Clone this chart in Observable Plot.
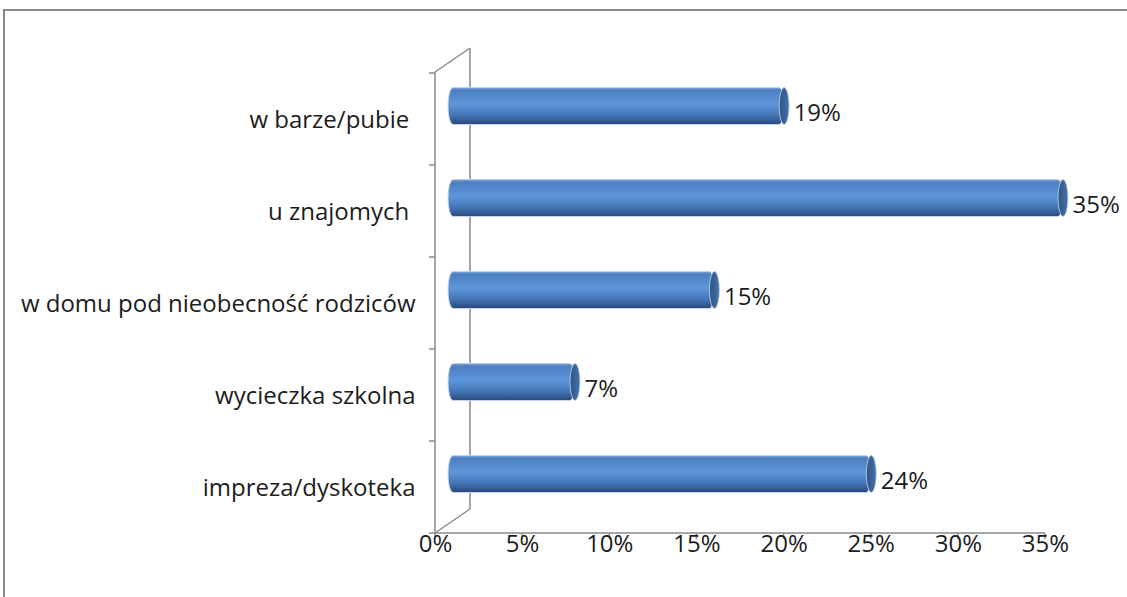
<!DOCTYPE html>
<html><head><meta charset="utf-8">
<script src="https://cdn.jsdelivr.net/npm/d3@7"></script>
<script src="https://cdn.jsdelivr.net/npm/@observablehq/plot@0.6"></script>
<style>
html,body{margin:0;padding:0;background:#fff;overflow:hidden;width:1127px;height:597px}
#frame{position:absolute;left:3px;top:9px;width:1200px;height:700px;border:2px solid #8a8a8a;box-sizing:border-box}
#chart{position:absolute;left:0;top:0}
#chart svg text{white-space:pre}
</style></head><body>
<div id="frame"></div><div id="chart"></div>
<script>
const categories = ["w barze/pubie ", "u znajomych ", "w domu pod nieobecność rodziców", "wycieczka szkolna", "impreza/dyskoteka"];
const values = [0.19, 0.35, 0.15, 0.07, 0.24];
const valueLabels = ["19%", "35%", "15%", "7%", "24%"];
const xTicks = [0, 0.05, 0.10, 0.15, 0.20, 0.25, 0.30, 0.35];
const xTickLabels = ["0%", "5%", "10%", "15%", "20%", "25%", "30%", "35%"];

const data = categories.map((c, i) => ({c, v: values[i], l: valueLabels[i]}));
const ticks = xTicks.map((t, i) => ({t, l: xTickLabels[i]}));

const FONT = "'Open Sans', Lato, sans-serif";
const FS = 24;
const textColor = "#1c1c1c";
const axisColor = "#8a8a8a";
const depth = [35, -24];

function axes(index, scales, values, dims) {
  const g = d3.create("svg:g").attr("stroke", axisColor).attr("stroke-width", 1.5).attr("fill", "none");
  const x0 = scales.x(0), x1 = scales.x(0.35);
  const top = dims.marginTop, bottom = dims.height - dims.marginBottom;
  // back wall
  g.append("line").attr("x1", x0 + depth[0]).attr("x2", x0 + depth[0]).attr("y1", top + depth[1]).attr("y2", bottom + depth[1]);
  g.append("line").attr("x1", x0).attr("x2", x0 + depth[0]).attr("y1", top).attr("y2", top + depth[1]);
  g.append("line").attr("x1", x0).attr("x2", x0 + depth[0]).attr("y1", bottom).attr("y2", bottom + depth[1]);
  // left axis
  g.append("line").attr("x1", x0).attr("x2", x0).attr("y1", top).attr("y2", bottom);
  const bounds = categories.map(c => scales.y(c)).concat([bottom]);
  for (const b of bounds) g.append("line").attr("x1", x0 - 6).attr("x2", x0).attr("y1", b).attr("y2", b);
  // bottom axis
  g.append("line").attr("x1", x0).attr("x2", x1).attr("y1", bottom).attr("y2", bottom);
  for (const t of xTicks) g.append("line").attr("x1", scales.x(t)).attr("x2", scales.x(t)).attr("y1", bottom).attr("y2", bottom + 6);
  return g.node();
}

const barOpts = {y: "c", dx: 18, dy: -13, insetTop: 27.5, insetBottom: 27.5};

const plot = Plot.plot({
  width: 1127, height: 597,
  marginLeft: 435, marginRight: 82, marginTop: 72, marginBottom: 64,
  style: {fontFamily: FONT, background: "transparent", overflow: "visible"},
  x: {domain: [0, 0.35], axis: null},
  y: {type: "band", domain: categories, padding: 0, axis: null},
  marks: [
    axes,
    Plot.barX(data, {...barOpts, x1: 0, x2: "v", insetLeft: -5, rx: 5, ry: 18.5, fill: "url(#cylGrad)", stroke: "#c3d2e6", strokeWidth: 1}),
    Plot.barX(data, {...barOpts, x1: "v", x2: "v", insetLeft: -5, insetRight: -5, rx: 5, ry: 18.5, fill: "url(#capGrad)", stroke: "#c3d2e6", strokeWidth: 0.8}),
    Plot.text(data, {x: "v", y: "c", text: "l", textAnchor: "start", dx: 27, dy: -6, fontSize: FS, fill: textColor}),
    Plot.text(categories, {y: d => d, text: d => d, frameAnchor: "left", textAnchor: "end", dx: -20, dy: 1, fontSize: FS, fill: textColor}),
    Plot.text(ticks, {x: "t", text: "l", frameAnchor: "bottom", dy: 18, fontSize: FS, fill: textColor})
  ]
});

const defs = d3.create("svg:defs");
const g1 = defs.append("linearGradient").attr("id", "cylGrad").attr("x1", 0).attr("x2", 0).attr("y1", 0).attr("y2", 1);
[[0, "#7aa3d8"], [0.08, "#4d7fc0"], [0.45, "#5e96da"], [0.75, "#4476b6"], [1, "#27497a"]].forEach(([o, c]) => g1.append("stop").attr("offset", o).attr("stop-color", c));
const g2 = defs.append("linearGradient").attr("id", "capGrad").attr("x1", 0).attr("x2", 1).attr("y1", 0).attr("y2", 0);
[[0, "#2f5687"], [0.6, "#3b6499"], [1, "#4a77b0"]].forEach(([o, c]) => g2.append("stop").attr("offset", o).attr("stop-color", c));
plot.insertBefore(defs.node(), plot.firstChild);
document.getElementById("chart").append(plot);
</script>
</body></html>
